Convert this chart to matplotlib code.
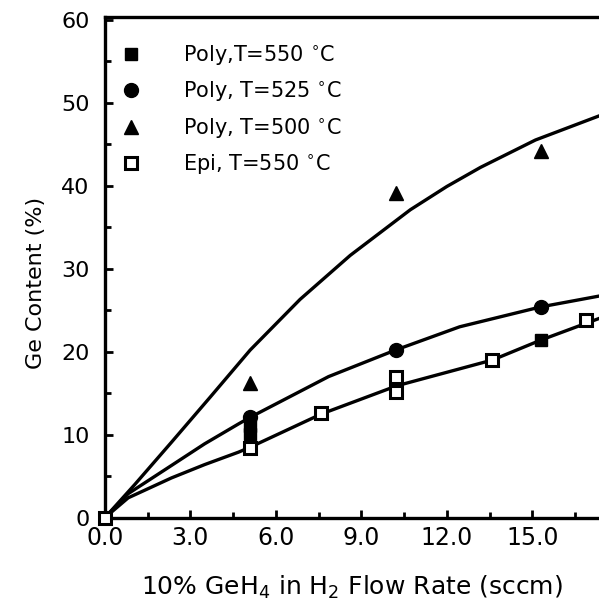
import numpy as np
import matplotlib
matplotlib.use('Agg')
import matplotlib.pyplot as plt
from matplotlib.ticker import MultipleLocator

plt.rcParams['font.family'] = ['DejaVu Sans']
plt.rcParams['mathtext.default'] = 'regular'

# measured points
poly550_x = [0.0, 5.1, 5.1, 15.3]
poly550_y = [0.0, 10.1, 11.0, 21.4]
poly525_x = [5.1, 10.2, 15.3]
poly525_y = [12.1, 20.2, 25.4]
poly500_x = [5.1, 10.2, 15.3]
poly500_y = [16.2, 39.1, 44.2]
epi_x = [0.0, 5.1, 7.6, 10.2, 10.2, 13.6, 16.9]
epi_y = [0.0, 8.4, 12.6, 15.2, 17.0, 19.0, 23.8]

# fitted curves
fit500_x = [0.0, 1.05, 2.34, 3.69, 5.1, 6.85, 8.61, 10.72, 12.0, 13.18, 15.11, 17.34]
fit500_y = [0.0, 4.0, 9.1, 14.5, 20.2, 26.3, 31.6, 37.1, 39.9, 42.2, 45.5, 48.4]
fit525_x = [0.0, 0.82, 2.34, 3.5, 4.69, 5.1, 7.85, 10.2, 12.45, 15.3, 17.34]
fit525_y = [0.0, 2.9, 6.3, 8.9, 11.3, 12.1, 17.0, 20.2, 23.0, 25.4, 26.7]
fit550_x = [0.0, 0.82, 2.34, 3.5, 4.69, 5.1, 7.6, 10.25, 13.6, 15.3, 17.34]
fit550_y = [0.0, 2.4, 4.8, 6.4, 7.9, 8.5, 12.5, 15.9, 19.0, 21.4, 24.0]

fig = plt.figure(figsize=(5.99, 6.12), dpi=100)
ax = fig.add_axes([0.175, 0.154, 0.825, 0.818])

for cx, cy in [(fit500_x, fit500_y), (fit525_x, fit525_y), (fit550_x, fit550_y)]:
    ax.plot(cx, cy, color='black', lw=2.4, clip_on=False, zorder=2,
            solid_joinstyle='round')

ax.plot(poly550_x, poly550_y, 's', color='black', ms=9, ls='none',
        label='Poly,T=550 $^{\\circ}$C', zorder=3, clip_on=False)
ax.plot(poly525_x, poly525_y, 'o', color='black', ms=10, ls='none',
        label='Poly, T=525 $^{\\circ}$C', zorder=3)
ax.plot(poly500_x, poly500_y, '^', color='black', ms=10, ls='none',
        label='Poly, T=500 $^{\\circ}$C', zorder=3)
ax.plot(epi_x, epi_y, 's', mfc='white', mec='black', mew=2.2, ms=9, ls='none',
        label='Epi, T=550 $^{\\circ}$C', zorder=4, clip_on=False)

ax.set_xlim(0, 17.34)
ax.set_ylim(0, 60.3)
ax.xaxis.set_minor_locator(MultipleLocator(1.5))
ax.yaxis.set_major_locator(MultipleLocator(10))
ax.yaxis.set_minor_locator(MultipleLocator(5))
ax.set_xticks([0, 3, 6, 9, 12, 15])
ax.set_xticklabels(['0.0', '3.0', '6.0', '9.0', '12.0', '15.0'])
ax.tick_params(which='both', direction='in', width=2)
ax.tick_params(which='major', length=6)
ax.tick_params(which='minor', length=4)
ax.tick_params(axis='x', pad=6, labelsize=17)
ax.tick_params(axis='y', pad=11, labelsize=16)
for s in ['left', 'bottom', 'top']:
    ax.spines[s].set_linewidth(2.4)
ax.spines['right'].set_visible(False)

ax.set_xlabel('10% GeH$_4$ in H$_2$ Flow Rate (sccm)', fontsize=18, labelpad=17)
ax.set_ylabel('Ge Content (%)', fontsize=16)
ax.yaxis.set_label_coords(-0.12, 0.47)

ax.legend(loc='upper left', frameon=False, fontsize=15, handletextpad=1.9,
          labelspacing=0.6, borderaxespad=0.0, handlelength=1.2,
          bbox_to_anchor=(0.01, 0.965))

fig.savefig('out.png', dpi=100)
